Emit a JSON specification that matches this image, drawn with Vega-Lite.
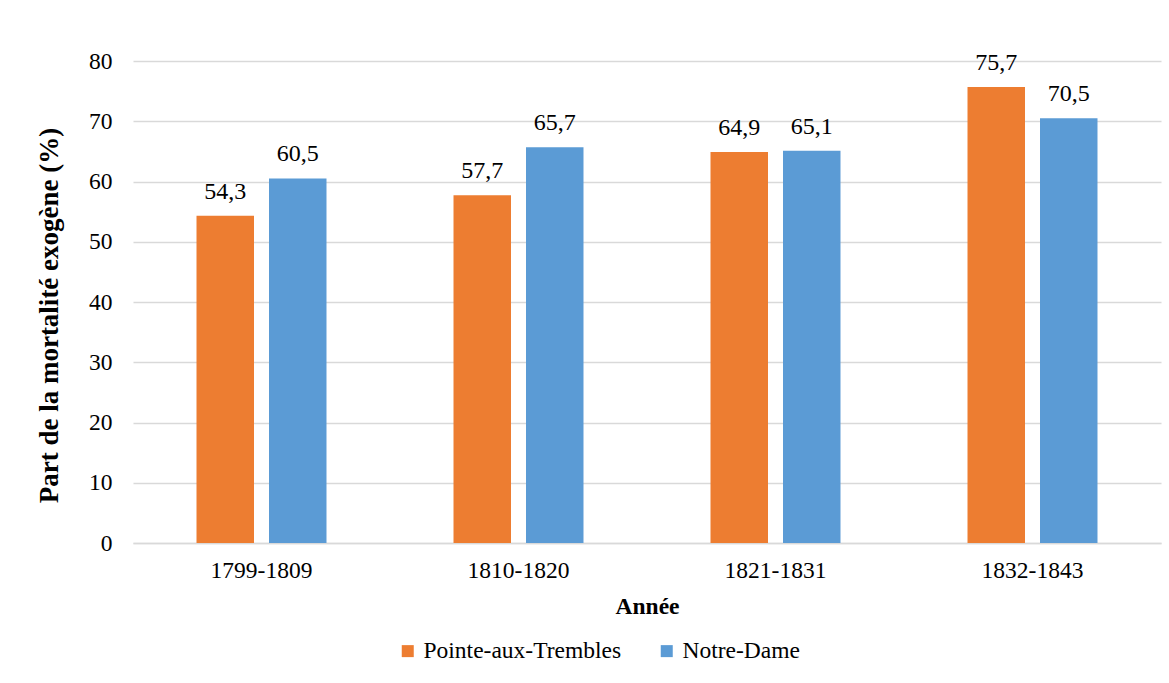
{
  "$schema": "https://vega.github.io/schema/vega-lite/v6.json",
  "autosize": "none",
  "width": 1028,
  "height": 482,
  "padding": {"left": 133, "top": 61, "right": 8, "bottom": 140},
  "background": "white",
  "config": {
    "locale": {"number": {"decimal": ",", "thousands": " ", "grouping": [3], "currency": ["", " €"]}},
    "font": "Liberation Serif",
    "view": {"stroke": null},
    "axis": {
      "labelFont": "Liberation Serif",
      "labelFontSize": 23.5,
      "labelColor": "#000000",
      "titleFont": "Liberation Serif",
      "titleFontSize": 23.5,
      "titleFontWeight": "bold",
      "titleColor": "#000000"
    },
    "legend": {
      "labelFont": "Liberation Serif",
      "labelFontSize": 23.5,
      "labelColor": "#000000",
      "labelLimit": 0
    }
  },
  "data": {
    "values": [
      {"periode": "1799-1809", "paroisse": "Pointe-aux-Trembles", "part": 54.3},
      {"periode": "1799-1809", "paroisse": "Notre-Dame", "part": 60.5},
      {"periode": "1810-1820", "paroisse": "Pointe-aux-Trembles", "part": 57.7},
      {"periode": "1810-1820", "paroisse": "Notre-Dame", "part": 65.7},
      {"periode": "1821-1831", "paroisse": "Pointe-aux-Trembles", "part": 64.9},
      {"periode": "1821-1831", "paroisse": "Notre-Dame", "part": 65.1},
      {"periode": "1832-1843", "paroisse": "Pointe-aux-Trembles", "part": 75.7},
      {"periode": "1832-1843", "paroisse": "Notre-Dame", "part": 70.5}
    ]
  },
  "encoding": {
    "x": {
      "field": "periode",
      "type": "nominal",
      "sort": null,
      "scale": {"paddingInner": 0, "paddingOuter": 0},
      "axis": {
        "title": "Année",
        "labelAngle": 0,
        "ticks": false,
        "domain": true,
        "domainColor": "#D9D9D9",
        "domainWidth": 1.3,
        "labelPadding": 15,
        "titlePadding": 13
      }
    },
    "xOffset": {
      "field": "paroisse",
      "type": "nominal",
      "sort": ["Pointe-aux-Trembles", "Notre-Dame"],
      "scale": {"paddingInner": 0.207, "paddingOuter": 0.876}
    },
    "y": {
      "field": "part",
      "type": "quantitative",
      "scale": {"domain": [0, 80], "nice": false},
      "axis": {
        "title": "Part de la mortalité exogène (%)",
        "titleFontSize": 27,
        "titleY": 254,
        "values": [0, 10, 20, 30, 40, 50, 60, 70, 80],
        "format": "d",
        "ticks": false,
        "domain": false,
        "grid": true,
        "gridColor": "#D9D9D9",
        "gridWidth": 1.3,
        "labelPadding": 21,
        "titlePadding": 25
      }
    }
  },
  "layer": [
    {
      "mark": {"type": "bar"},
      "encoding": {
        "color": {
          "field": "paroisse",
          "type": "nominal",
          "sort": ["Pointe-aux-Trembles", "Notre-Dame"],
          "scale": {"domain": ["Pointe-aux-Trembles", "Notre-Dame"], "range": ["#ED7D31", "#5B9BD5"]},
          "legend": {
            "title": null,
            "orient": "none",
            "legendX": 263,
            "legendY": 578,
            "padding": 0,
            "direction": "horizontal",
            "symbolType": "square",
            "symbolSize": 144,
            "symbolStrokeWidth": 0,
            "labelOffset": 4,
            "columnPadding": 33
          }
        }
      }
    },
    {
      "mark": {"type": "text", "baseline": "alphabetic", "dy": -17, "fontSize": 24, "font": "Liberation Serif", "color": "#000000"},
      "encoding": {
        "text": {"field": "part", "type": "quantitative", "format": ".1f"}
      }
    }
  ]
}
